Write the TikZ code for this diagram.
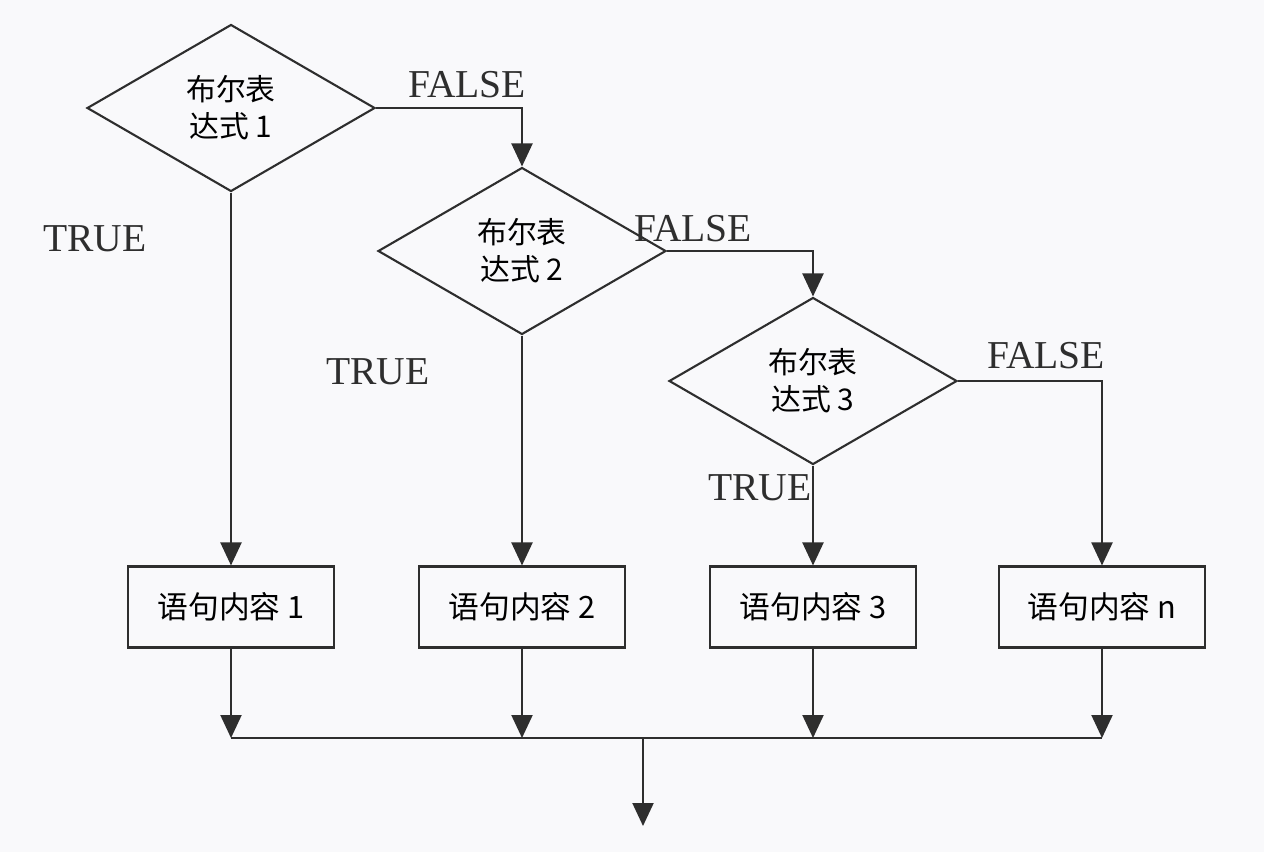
\documentclass[tikz,border=0pt]{standalone}
\usepackage{fontspec}
\setmainfont{Liberation Serif}
\newfontfamily\cjk{Noto Sans CJK SC}[BoldFont=*]
\usetikzlibrary{shapes.geometric,arrows.meta}

\definecolor{linegray}{HTML}{2E2E2E}
\definecolor{bggray}{HTML}{F9F9FB}

\tikzset{
  cond/.style={diamond, draw=linegray, line width=1.2pt, minimum width=5.76cm,
    minimum height=3.34cm, inner sep=0pt, align=center, font=\cjk\fontsize{17}{21}\selectfont},
  stmt/.style={rectangle, draw=linegray, line width=1.2pt, minimum width=4.12cm,
    minimum height=1.62cm, font=\cjk\fontsize{17.5}{20}\selectfont},
  arr/.style={draw=linegray, line width=1.2pt, -{Triangle[width=0.42cm,length=0.46cm]}},
  lbl/.style={font=\fontsize{22.5}{24}\selectfont, text=linegray}
}

\begin{document}
\begin{tikzpicture}[x=0.02cm, y=-0.02cm]

\fill[bggray] (0,0) rectangle (1264,852);
\useasboundingbox (0,0) rectangle (1264,852);

% ---- conditions ----
\node[cond] (d1) at (231,108) {布尔表\\达式 1};
\node[cond] (d2) at (522,251) {布尔表\\达式 2};
\node[cond] (d3) at (813,381) {布尔表\\达式 3};

% ---- statements ----
\node[stmt] (b1) at (231,607) {语句内容 1};
\node[stmt] (b2) at (522,607) {语句内容 2};
\node[stmt] (b3) at (813,607) {语句内容 3};
\node[stmt] (b4) at (1102,607) {语句内容 n};

% ---- labels ----
\node[lbl] (f1) at (467,85) {FALSE};
\node[lbl] (f2) at (693,229) {FALSE};
\node[lbl] (f3) at (1046,356) {FALSE};
\node[lbl] (t1) at (95,239) {TRUE};
\node[lbl] (t2) at (378,372) {TRUE};
\node[lbl] (t3) at (760,488) {TRUE};

% ---- branches ----
\draw[arr] (d1.east) -| (d2.north);
\draw[arr] (d2.east) -| (d3.north);
\draw[arr] (d3.east) -| (b4.north);

\draw[arr] (d1.south) -- (b1.north);
\draw[arr] (d2.south) -- (b2.north);
\draw[arr] (d3.south) -- (b3.north);

% ---- merge ----
\coordinate (jl) at (231,738);
\coordinate (jr) at (1102,738);
\coordinate (jm) at (643,738);
\coordinate (out) at (643,826);

\foreach \b in {b1,b2,b3,b4}
  \draw[arr] (\b.south) -- (\b.south |- jl);

\draw[linegray, line width=1.2pt] (jl) -- (jr);
\draw[arr] (jm) -- (out);

\end{tikzpicture}
\end{document}
